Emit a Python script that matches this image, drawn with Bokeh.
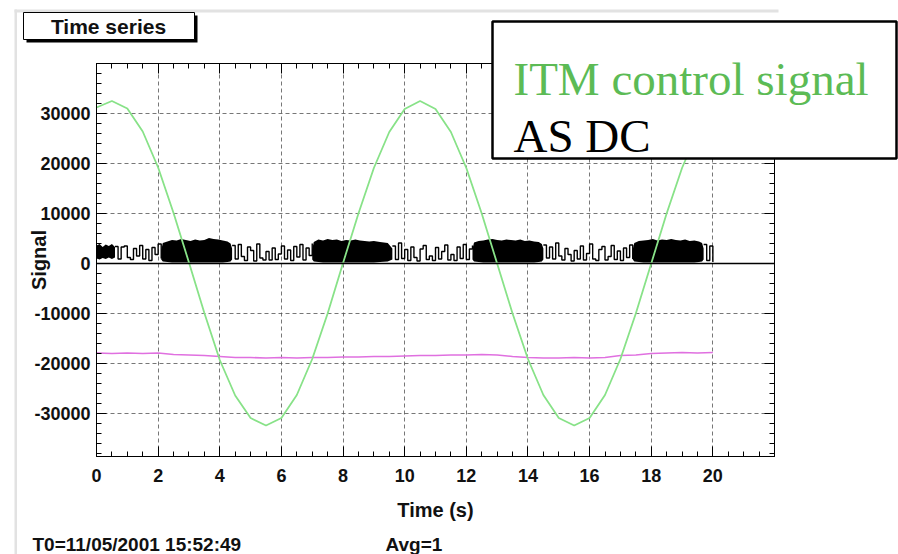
import numpy as np
from bokeh.plotting import figure
from bokeh.models import Range1d, LinearAxis, FixedTicker, Span, BoxAnnotation, Label
from bokeh.embed import file_html
from bokeh.resources import INLINE

# ---------------- data ----------------
# ITM control signal (green), sampled every 0.5 s
itm_t = [0, 0.5, 1, 1.5, 2, 2.5, 3, 3.5, 4, 4.5, 5, 5.5, 6, 6.5, 7, 7.5, 8, 8.5, 9, 9.5,
         10, 10.5, 11, 11.5, 12, 12.5, 13, 13.5, 14, 14.5, 15, 15.5, 16, 16.5, 17, 17.5,
         18, 18.5, 19, 19.5, 20]
itm_v = [31200, 32500, 31000, 26400, 19200, 10100, 200, -9900, -19300, -26400, -30900,
         -32400, -30900, -26300, -19100, -10000, 100, 10000, 19100, 26300, 30900, 32500,
         30900, 26300, 19100, 10000, 0, -10000, -19100, -26300, -30900, -32400, -30900,
         -26300, -19100, -10000, 0, 10000, 19100, 26300, 30900]

# third trace (magenta), sampled every 0.5 s
mag_t = itm_t
mag_v = [-17900, -18000, -17900, -18000, -17900, -18200, -18300, -18400, -18600, -18800,
         -18800, -18900, -18800, -18900, -18800, -18800, -18700, -18700, -18600, -18600,
         -18500, -18400, -18400, -18300, -18300, -18200, -18300, -18600, -18800, -18900,
         -18900, -18800, -18900, -18800, -18400, -18300, -18000, -17900, -17800, -17900,
         -17800]

# AS DC: dense bursts (envelope low / high)
burst_t = [
    [0.0, 0.1, 0.2, 0.3, 0.4, 0.5, 0.6],
    [2.1, 2.15, 2.3, 2.45, 2.6, 2.75, 2.9, 3.05, 3.2, 3.35, 3.5, 3.65, 3.8, 3.95, 4.1, 4.25, 4.35, 4.4],
    [7.0, 7.05, 7.2, 7.35, 7.5, 7.65, 7.8, 7.95, 8.1, 8.25, 8.4, 8.55, 8.7, 8.85, 9.0, 9.2, 9.45, 9.6],
    [12.2, 12.25, 12.4, 12.55, 12.7, 12.85, 13.0, 13.15, 13.3, 13.45, 13.6, 13.75, 13.9, 14.05, 14.2, 14.35, 14.45, 14.5],
    [17.4, 17.45, 17.6, 17.75, 17.9, 18.05, 18.2, 18.35, 18.5, 18.65, 18.8, 18.95, 19.1, 19.25, 19.4, 19.55, 19.65, 19.7],
]
burst_high = [
    [3600, 3900, 3300, 3800, 3500, 3900, 3300],
    [2600, 4100, 4400, 4700, 4600, 4900, 4700, 4500, 4800, 4600, 4700, 5100, 4900, 4800, 4600, 4400, 4000, 3000],
    [2800, 4300, 4800, 4600, 4900, 4700, 4800, 4500, 4700, 4600, 4800, 4600, 4500, 4400, 4500, 4300, 4100, 3000],
    [2900, 4200, 4500, 4600, 4800, 4900, 4700, 4600, 4800, 4700, 4600, 4800, 4500, 4600, 4400, 4300, 3900, 3000],
    [2800, 4100, 4500, 4600, 4700, 4900, 4600, 4800, 4700, 4900, 4700, 4600, 4800, 4500, 4600, 4400, 4100, 3000],
]
burst_low = [
    [1000, 800, 1100, 900, 1200, 900, 1200],
    [800, 400, 300, 200, 200, 200, 200, 200, 200, 200, 200, 200, 200, 200, 200, 300, 400, 800],
    [800, 400, 300, 200, 200, 200, 200, 200, 200, 200, 200, 200, 200, 200, 200, 300, 400, 800],
    [800, 400, 300, 200, 200, 200, 200, 200, 200, 200, 200, 200, 200, 200, 200, 300, 400, 800],
    [800, 400, 300, 200, 200, 200, 200, 200, 200, 200, 200, 200, 200, 200, 200, 300, 400, 800],
]

# AS DC: sparse stretches between bursts, one value per 0.1 s
quiet_start = [0.6, 4.4, 9.6, 14.5, 19.7]
quiet_v = [
    [3400, 900, 3300, 3500, 1200, 800, 3000, 1500, 3600, 900, 2800, 600, 3200, 1800, 3900, 1000],
    [3600, 900, 3800, 1400, 600, 3300, 2600, 500, 3900, 1100, 700, 2400, 700, 3100, 800, 1900,
     3500, 900, 2700, 600, 3400, 1300, 3800, 700, 3100, 1600, 4000],
    [3500, 800, 4100, 1000, 2800, 600, 3300, 1200, 500, 2900, 3600, 800, 1500, 600, 3200, 900,
     2400, 3700, 700, 1800, 600, 3300, 1000, 3800, 800, 2900, 3600],
    [3700, 1100, 3300, 900, 4100, 1500, 700, 3000, 1800, 500, 2600, 900, 3500, 700, 2000, 3900,
     900, 600, 2800, 3400, 700, 1400, 3600, 800, 2500, 600, 3100, 1200, 3700, 900],
    [3800, 600, 3500, 300],
]
quiet_dt = 0.1

x_ticks = [0, 2, 4, 6, 8, 10, 12, 14, 16, 18, 20]
x_tick_labels = ["0", "2", "4", "6", "8", "10", "12", "14", "16", "18", "20"]
y_ticks = [-30000, -20000, -10000, 0, 10000, 20000, 30000]
y_tick_labels = ["-30000", "-20000", "-10000", "0", "10000", "20000", "30000"]

legend_names = ["ITM control signal", "AS DC"]

# ---------------- main figure ----------------
W, H = 898, 554
FL, FT, FR, FB = 96, 63, 774, 456   # frame edges in page pixels

p = figure(width=W, height=H, x_range=Range1d(0, 22), y_range=Range1d(-38600, 40000),
           output_backend="svg", toolbar_location=None,
           min_border_left=FL, min_border_right=W - FR, min_border_top=FT,
           min_border_bottom=H - FB)
p.background_fill_color = "white"
p.border_fill_color = "white"
p.outline_line_color = "black"
p.outline_line_width = 1

xt = FixedTicker(ticks=x_ticks, minor_ticks=list(np.arange(0, 22.01, 0.5)))
yt = FixedTicker(ticks=y_ticks, minor_ticks=list(range(-38000, 40001, 2000)))

font = "Liberation Sans"

for ax, t in ((p.xaxis[0], xt), (p.yaxis[0], yt)):
    ax.ticker = t
    ax.major_tick_in = 10
    ax.major_tick_out = 0
    ax.minor_tick_in = 5
    ax.minor_tick_out = 0
    ax.axis_line_color = "black"
    ax.major_tick_line_color = "black"
    ax.minor_tick_line_color = "black"
    ax.major_label_text_font = font
    ax.major_label_text_font_style = "bold"
    ax.major_label_text_font_size = "18px"
    ax.major_label_text_color = "#111111"
    ax.axis_label_text_font = font
    ax.axis_label_text_font_style = "bold"
    ax.axis_label_text_font_size = "20px"
    ax.axis_label_text_color = "#111111"

p.xaxis[0].major_label_overrides = dict(zip(x_ticks, x_tick_labels))
p.yaxis[0].major_label_overrides = dict(zip(y_ticks, y_tick_labels))
p.xaxis[0].axis_label = "Time (s)"
p.yaxis[0].axis_label = "Signal"
p.xaxis[0].major_label_standoff = 12
p.xaxis[0].axis_label_standoff = 14
p.yaxis[0].major_label_standoff = 6
p.yaxis[0].axis_label_standoff = -19

for loc, t, ticks in (("above", xt, x_ticks), ("right", yt, y_ticks)):
    a = LinearAxis(ticker=t, major_tick_in=10, major_tick_out=0, minor_tick_in=5,
                   minor_tick_out=0, axis_line_color="black",
                   major_label_overrides={k: "" for k in ticks})
    p.add_layout(a, loc)

p.xgrid.ticker = FixedTicker(ticks=x_ticks)
p.ygrid.ticker = FixedTicker(ticks=y_ticks)
for g in (p.xgrid, p.ygrid):
    g.grid_line_color = "#555555"
    g.grid_line_dash = "4 3"
    g.grid_line_alpha = 0.8

p.add_layout(Span(location=0, dimension="width", line_color="black", line_width=1.5))

# traces
p.line(mag_t, mag_v, line_color="#e070e0", line_width=1.6)

for bt, bl, bh in zip(burst_t, burst_low, burst_high):
    p.varea(x=bt, y1=bl, y2=bh, fill_color="black")
for s, vals in zip(quiet_start, quiet_v):
    tt = [s + i * quiet_dt for i in range(len(vals))]
    p.step(tt, vals, mode="after", line_color="black", line_width=1.4)

p.line(itm_t, itm_v, line_color="#88e288", line_width=1.8)

# ---------------- transparent overlay for the page decorations ----------------
ov = figure(width=W, height=H, x_range=Range1d(0, W), y_range=Range1d(H, 0),
            output_backend="svg", toolbar_location=None, min_border=0,
            min_border_left=0, min_border_right=0, min_border_top=0, min_border_bottom=0,
            x_axis_location=None, y_axis_location=None)
ov.background_fill_alpha = 0
ov.border_fill_alpha = 0
ov.outline_line_color = None
ov.grid.visible = False
ov.styles = {"position": "absolute", "left": "0px", "top": "0px"}


def cbox(l, r, t, b, **kw):
    return BoxAnnotation(left=l, right=r, top=t, bottom=b, left_units="canvas",
                         right_units="canvas", top_units="canvas", bottom_units="canvas", **kw)


def clabel(x, y, text, **kw):
    return Label(x=x, y=y, x_units="canvas", y_units="canvas", text=text, **kw)


# canvas edges (light gray)
ov.add_layout(cbox(14, 778, 9, 12, fill_color="#e2e2e2", fill_alpha=1, line_alpha=0))
ov.add_layout(cbox(14, 16.5, 9, 554, fill_color="#e2e2e2", fill_alpha=1, line_alpha=0))

# "Time series" title box with shadow
ov.add_layout(cbox(26, 197, 15, 42, fill_color="black", fill_alpha=1, line_alpha=0))
ov.add_layout(cbox(23, 194, 12, 39, fill_color="white", fill_alpha=1, line_color="black",
                   line_alpha=1, line_width=1))
ov.add_layout(clabel(108, 26, "Time series", text_font=font, text_font_style="bold",
                     text_font_size="21px", text_color="#111111", text_align="center",
                     text_baseline="middle"))

# legend box
ov.add_layout(cbox(492, 896, 21, 158, fill_color="white", fill_alpha=1, line_color="black",
                   line_alpha=1, line_width=2.5))
ov.add_layout(clabel(513, 78, legend_names[0], text_font="Liberation Serif",
                     text_font_size="47px", text_color="#5cbb55", text_baseline="alphabetic"))
ov.add_layout(clabel(513, 135, legend_names[1], text_font="Liberation Serif",
                     text_font_size="47px", text_color="black", text_baseline="alphabetic"))

# footer texts
ov.add_layout(clabel(32, 544, "T0=11/05/2001 15:52:49", text_font=font, text_font_style="bold",
                     text_font_size="19px", text_color="#111111", text_baseline="middle"))
ov.add_layout(clabel(385, 544, "Avg=1", text_font=font, text_font_style="bold",
                     text_font_size="19px", text_color="#111111", text_baseline="middle"))

open("out.html", "w").write(file_html([p, ov], INLINE))
